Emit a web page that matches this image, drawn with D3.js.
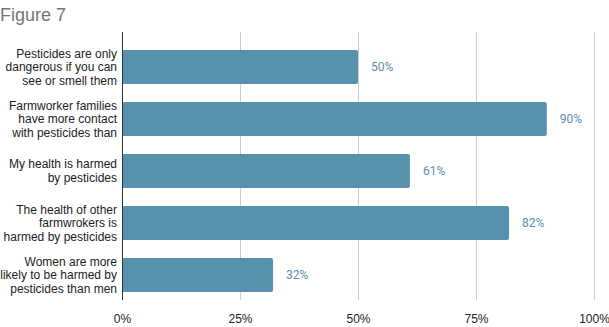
<!DOCTYPE html>
<meta charset="UTF-8">
<style>
body { margin: 0; background: #fff; }
.cat text { font: 12px "Liberation Sans", Arial, sans-serif; fill: #222; }
.tick text { font: 12px "Liberation Sans", Arial, sans-serif; fill: #222; }
.val { font: 12px Roboto, sans-serif; fill: #5b8fb0; }
</style>
<body>
<script src="https://d3js.org/d3.v7.min.js"></script>
<script>

var categories = [
  ["Pesticides are only", "dangerous if you can", "see or smell them"],
  ["Farmworker families", "have more contact", "with pesticides than"],
  ["My health is harmed", "by pesticides"],
  ["The health of other", "farmwrokers is", "harmed by pesticides"],
  ["Women are more", "likely to be harmed by", "pesticides than men"]
];
var values = [0.50, 0.90, 0.61, 0.82, 0.32];
var valueLabels = ["50%", "90%", "61%", "82%", "32%"];
var ticks = [0, 0.25, 0.5, 0.75, 1];
var tickLabels = ["0%", "25%", "50%", "75%", "100%"];

var W = 609, H = 327;
var svg = d3.select("body").append("svg").attr("width", W).attr("height", H);

svg.append("text")
  .attr("x", 0).attr("y", 21)
  .style("font", "18px 'Liberation Sans', Arial, sans-serif")
  .style("fill", "#757575")
  .text("Figure 7");

var x = d3.scaleLinear().domain([0, 1]).range([122, 594]);
var y = d3.scaleBand().domain(d3.range(categories.length)).range([41, 301]).paddingInner(0.35).paddingOuter(0.175);

// gridlines
svg.selectAll("line.grid").data(ticks.slice(1)).enter().append("line")
  .attr("class", "grid")
  .attr("x1", function(d) { return Math.round(x(d)) + 0.5; })
  .attr("x2", function(d) { return Math.round(x(d)) + 0.5; })
  .attr("y1", 32).attr("y2", 300)
  .style("stroke", "#cccccc").style("stroke-width", 1);

// bars
svg.selectAll("rect.bar").data(values).enter().append("rect")
  .attr("class", "bar")
  .attr("x", x(0))
  .attr("y", function(d, i) { return y(i); })
  .attr("width", function(d) { return x(d) - x(0); })
  .attr("height", y.bandwidth())
  .attr("rx", 2)
  .style("fill", "#5891ae");

// value labels
svg.selectAll("text.val").data(values).enter().append("text")
  .attr("class", "val")
  .attr("x", function(d) { return x(d) + 13; })
  .attr("y", function(d, i) { return y(i) + y.bandwidth() / 2; })
  .attr("dy", "0.35em")
  .text(function(d, i) { return valueLabels[i]; });

// base axis line
svg.append("line")
  .attr("x1", x(0) + 0.5).attr("x2", x(0) + 0.5)
  .attr("y1", 32).attr("y2", 300)
  .style("stroke", "#333").style("stroke-width", 1);

// x tick labels
var xAxis = d3.axisBottom(x).tickValues(ticks).tickSize(0).tickPadding(0)
  .tickFormat(function(d, i) { return tickLabels[i]; });
var gx = svg.append("g").attr("transform", "translate(0,314)").call(xAxis);
gx.select(".domain").remove();
gx.selectAll(".tick text").attr("dy", "0.71em");

// category labels
var cat = svg.append("g").attr("class", "cat");
categories.forEach(function(lines, i) {
  var cy = y(i) + y.bandwidth() / 2;
  var lh = 13.5;
  var t = cat.append("text").attr("text-anchor", "end");
  lines.forEach(function(l, j) {
    t.append("tspan")
      .attr("x", 117)
      .attr("y", cy + (j - (lines.length - 1) / 2) * lh)
      .attr("dy", "0.35em")
      .text(l);
  });
});
</script>
</body>
